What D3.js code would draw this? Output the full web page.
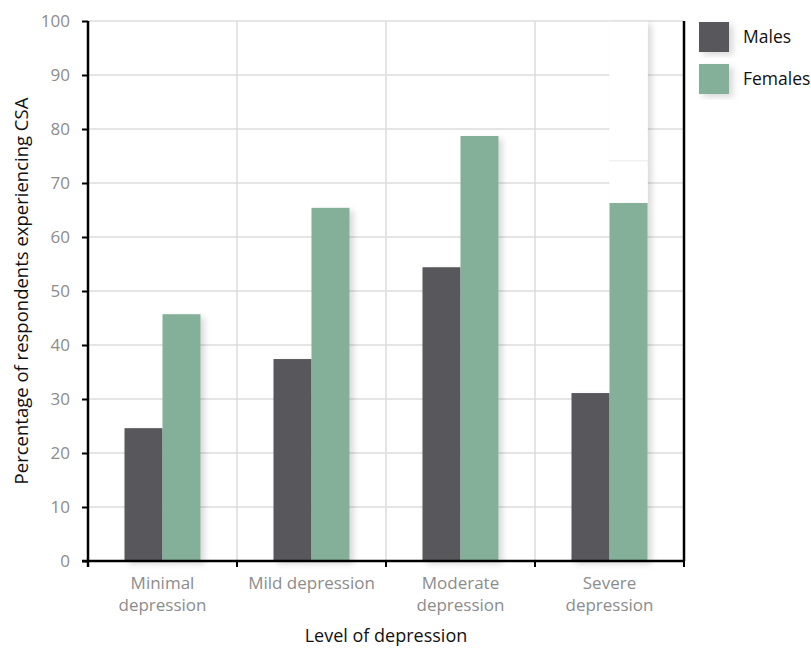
<!DOCTYPE html>
<html>
<head>
<meta charset="utf-8">
<script src="https://cdn.jsdelivr.net/npm/d3@7"></script>
<style>
  html, body { margin: 0; padding: 0; background: #fff; }
  svg { display: block; }
</style>
</head>
<body>
<svg id="chart" width="811" height="650"></svg>
<script>
// Share of respondents reporting CSA, by level of depression and sex
const categories = ["Minimal depression", "Mild depression", "Moderate depression", "Severe depression"];
const categoryLines = [["Minimal", "depression"], ["Mild depression"], ["Moderate", "depression"], ["Severe", "depression"]];
const seriesNames = ["Males", "Females"];
const males = [24.6, 37.4, 54.4, 31.1];
const females = [45.7, 65.4, 78.7, 66.3];
// Blank stacked segments drawn above the female bar in the last group
const blankSegments = [{ cat: "Severe depression", from: 66.3, to: 74.2 }, { cat: "Severe depression", from: 74.2, to: 100 }];
const yTicks = [0, 10, 20, 30, 40, 50, 60, 70, 80, 90, 100];
const colors = ["#59595b", "#84b09a"];

const svg = d3.select("#chart");
const margin = { left: 88, right: 127, top: 21, bottom: 89 };
const W = 811, H = 650;
const x0 = margin.left, x1 = W - margin.right, yTop = margin.top, yBot = H - margin.bottom;
const labelFont = "'Open Sans', Lato, sans-serif";

const defs = svg.append("defs");
const f = defs.append("filter").attr("id", "shadow").attr("x", "-20%").attr("y", "-10%").attr("width", "160%").attr("height", "130%");
f.append("feDropShadow").attr("dx", 4).attr("dy", 3).attr("stdDeviation", 3).attr("flood-color", "#000").attr("flood-opacity", 0.15);

const x = d3.scaleBand().domain(categories).range([x0, x1]).paddingInner(0).paddingOuter(0);
const xs = d3.scaleBand().domain(seriesNames).range([0, x.bandwidth()]).paddingInner(0).paddingOuter(0.96);
const y = d3.scaleLinear().domain([0, 100]).range([yBot, yTop]);

// Horizontal gridlines
svg.append("g").selectAll("line").data(yTicks.filter(d => d > 0)).join("line")
  .attr("x1", x0).attr("x2", x1).attr("y1", d => y(d)).attr("y2", d => y(d))
  .attr("stroke", "#dcdcdc").attr("stroke-width", 1.5);
// Vertical gridlines at category boundaries
svg.append("g").selectAll("line").data(categories.slice(1)).join("line")
  .attr("x1", d => x(d)).attr("x2", d => x(d)).attr("y1", yTop).attr("y2", yBot)
  .attr("stroke", "#dcdcdc").attr("stroke-width", 1.5);

// Blank segments: shadow pass, then clean fill with a faint edge (drawn under the bars)
const blank = svg.append("g");
blank.selectAll("rect.sh").data(blankSegments).join("rect").attr("class", "sh")
  .attr("x", d => x(d.cat) + xs("Females")).attr("width", xs.bandwidth())
  .attr("y", d => y(d.to)).attr("height", d => y(d.from) - y(d.to))
  .attr("fill", "#fff").attr("filter", "url(#shadow)");
blank.selectAll("rect.fg").data(blankSegments).join("rect").attr("class", "fg")
  .attr("x", d => x(d.cat) + xs("Females")).attr("width", xs.bandwidth())
  .attr("y", d => y(d.to)).attr("height", d => y(d.from) - y(d.to))
  .attr("fill", "#fff");
blank.selectAll("line").data(blankSegments).join("line")
  .attr("x1", d => x(d.cat) + xs("Females")).attr("x2", d => x(d.cat) + xs("Females") + xs.bandwidth())
  .attr("y1", d => y(d.to) + 0.5).attr("y2", d => y(d.to) + 0.5)
  .attr("stroke", "#e6eaec").attr("stroke-width", 1);

// Bars
const groups = svg.append("g").selectAll("g").data(categories).join("g")
  .attr("transform", d => `translate(${x(d)},0)`);
groups.each(function (cat, i) {
  const g = d3.select(this);
  const vals = [males[i], females[i]];
  seriesNames.forEach((s, j) => {
    g.append("rect")
      .attr("x", xs(s)).attr("width", xs.bandwidth())
      .attr("y", y(vals[j])).attr("height", y(0) - y(vals[j]))
      .attr("fill", colors[j]).attr("filter", "url(#shadow)");
  });
});

// Axes
const yAxis = d3.axisLeft(y).tickValues(yTicks).tickSize(6).tickPadding(12);
const gy = svg.append("g").attr("transform", `translate(${x0},0)`).call(yAxis);
gy.select(".domain").attr("stroke", "#000").attr("stroke-width", 2.5).attr("d", `M0,${yTop}V${yBot + 6}`);
gy.selectAll(".tick line").attr("stroke", "#000").attr("stroke-width", 2);
gy.selectAll(".tick text").attr("fill", "#8c8c8c").style("font-family", labelFont).style("font-size", "17px");

svg.append("line").attr("x1", x1).attr("x2", x1).attr("y1", yTop).attr("y2", yBot)
  .attr("stroke", "#000").attr("stroke-width", 2.5);

const xAxis = d3.axisBottom(x).tickValues([]).tickSize(0);
const gx = svg.append("g").attr("transform", `translate(0,${yBot})`).call(xAxis);
gx.select(".domain").attr("stroke", "#000").attr("stroke-width", 2.5).attr("d", `M${x0 - 6},0H${x1}`);
const boundaries = categories.map(c => x(c)).concat([x1]);
gx.selectAll(".bt").data(boundaries).join("line").attr("class", "bt")
  .attr("x1", d => d).attr("x2", d => d).attr("y1", 0).attr("y2", 6)
  .attr("stroke", "#000").attr("stroke-width", 2);

// Category labels, one text per line
const labLines = [];
categories.forEach((c, i) => categoryLines[i].forEach((t, k) => labLines.push({ cat: c, text: t, k })));
svg.append("g").selectAll("text").data(labLines).join("text")
  .attr("x", d => x(d.cat) + x.bandwidth() / 2).attr("y", d => yBot + 28 + d.k * 22)
  .attr("text-anchor", "middle").attr("fill", "#8c8c8c")
  .style("font-family", labelFont).style("font-size", "17px")
  .text(d => d.text);

// Axis titles
svg.append("text").attr("x", (x0 + x1) / 2).attr("y", 642).attr("text-anchor", "middle")
  .attr("fill", "#111").style("font-family", labelFont).style("font-size", "18px")
  .text("Level of depression");
svg.append("text").attr("transform", `translate(28,${(yTop + yBot) / 2}) rotate(-90)`).attr("text-anchor", "middle")
  .attr("fill", "#111").style("font-family", labelFont).style("font-size", "18.5px")
  .text("Percentage of respondents experiencing CSA");

// Legend
const leg = svg.append("g").selectAll("g").data(seriesNames).join("g")
  .attr("transform", (d, i) => `translate(699,${22 + i * 42})`);
leg.append("rect").attr("width", 30).attr("height", 30).attr("fill", (d, i) => colors[i]).attr("filter", "url(#shadow)");
leg.append("text").attr("x", 44).attr("y", 21).attr("fill", "#111")
  .style("font-family", labelFont).style("font-size", "17.5px").text(d => d);
</script>
</body>
</html>
